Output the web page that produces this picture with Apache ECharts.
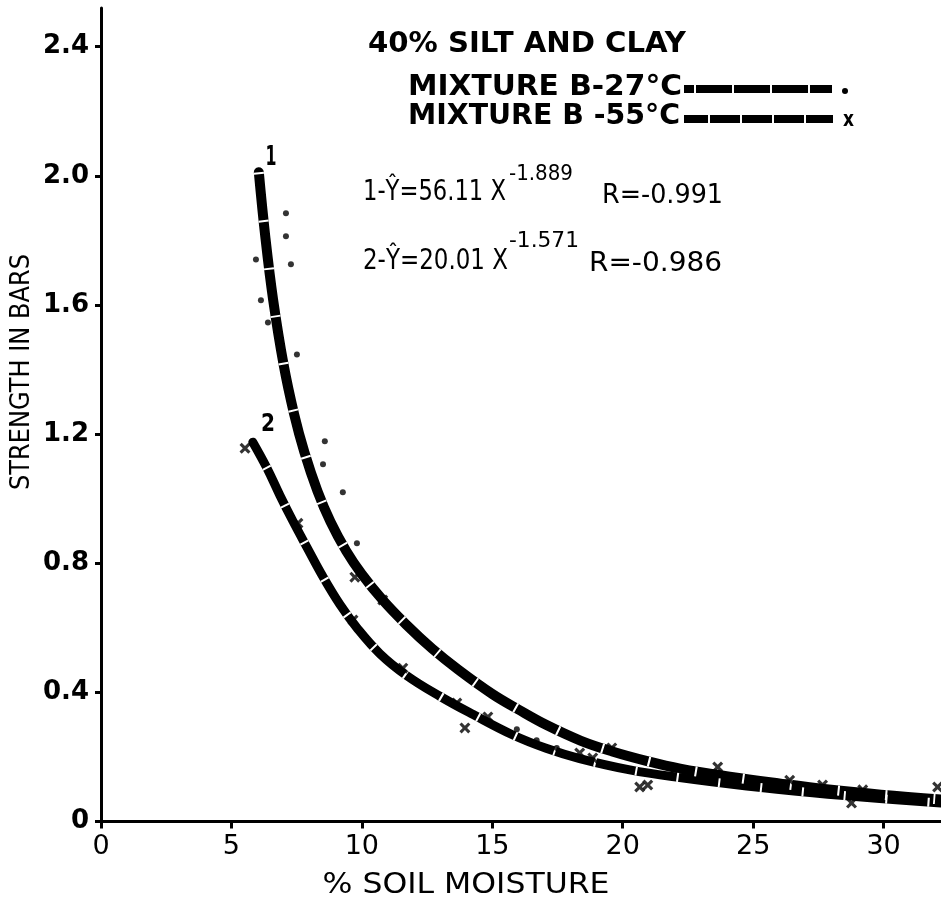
<!DOCTYPE html>
<html>
<head>
<meta charset="utf-8">
<script src="https://cdn.jsdelivr.net/npm/echarts@6/dist/echarts.min.js"></script>
<style>
html,body{margin:0;padding:0;background:#fff;}
#chart{width:941px;height:905px;}
</style>
</head>
<body>
<div id="chart"></div>
<script>
// ---- data ----
const curve1X = [6.05,6.3,6.6,7.0,7.4,7.8,8.3,8.8,9.4,10.0,10.8,11.7,12.7,13.7,15.0,16.0,17.1,18.4,19.6,20.9,22.2,24.1,26.0,27.9,29.9,32.2];
const curve1Y = [2.011,1.81,1.615,1.415,1.263,1.143,1.023,0.928,0.838,0.766,0.686,0.610,0.535,0.470,0.395,0.347,0.298,0.250,0.217,0.188,0.164,0.139,0.118,0.099,0.083,0.068];
const curve2X = [5.82,6.36,6.86,7.36,7.89,8.51,9.16,9.81,10.69,11.72,12.99,14.25,15.79,17.09,18.35,20.27,22.18,24.75,27.28,29.85,32.2];
const curve2Y = [1.175,1.095,1.010,0.930,0.850,0.758,0.672,0.600,0.520,0.452,0.388,0.332,0.268,0.226,0.195,0.160,0.136,0.110,0.089,0.071,0.057];
const dots27X = [7.09,7.09,5.94,7.28,6.13,6.40,7.51,8.58,8.51,9.27,9.81,15.94,16.70,17.47];
const dots27Y = [1.884,1.813,1.741,1.726,1.615,1.546,1.447,1.178,1.107,1.020,0.862,0.286,0.252,0.228];
const cross55X = [5.52,7.55,9.73,10.80,9.66,11.57,13.64,13.95,14.83,18.35,18.85,19.58,20.65,20.96,23.64,26.40,27.66,28.77,29.20,32.07];
const cross55Y = [1.156,0.924,0.757,0.686,0.624,0.475,0.367,0.290,0.324,0.212,0.197,0.228,0.107,0.113,0.169,0.128,0.113,0.057,0.098,0.107];
const xTickLabels = ['0','5','10','15','20','25','30'];
const yTickLabels = ['0','0.4','0.8','1.2','1.6','2.0','2.4'];
const titleText = '40% SILT AND CLAY';
const legendNames = ['MIXTURE B-27°C','MIXTURE B -55°C'];
const eq1 = ['1-Ŷ=56.11 X','-1.889','R=-0.991'];
const eq2 = ['2-Ŷ=20.01 X','-1.571','R=-0.986'];
const curveLabels = ['1','2'];
const xName = '% SOIL MOISTURE';
const yName = 'STRENGTH IN BARS';

const pair = (xs, ys) => xs.map((x, i) => [x, ys[i]]);
const FONT = 'DejaVu Sans';
const crossPath = 'path://M2,0 L5,3 L8,0 L10,2 L7,5 L10,8 L8,10 L5,7 L2,10 L0,8 L3,5 L0,2 Z';

const mctx = document.createElement('canvas').getContext('2d');
// text fitted to a target width (horizontal scale only)
function fit(text, x, y, size, weight, width, align, extra) {
  const font = weight + ' ' + size + 'px "' + FONT + '"';
  mctx.font = font;
  const w = mctx.measureText(text).width;
  return Object.assign({
    type:'text', x:x, y:y, silent:true, scaleX: width / w, scaleY: 1,
    style:{text:text, x:0, y:0, fill:'#000', font:font, textAlign: align || 'left', textVerticalAlign:'middle'}
  }, extra || {});
}

const chart = echarts.init(document.getElementById('chart'), null, {renderer:'canvas'});

const option = {
  backgroundColor:'#fff',
  animation:false,
  grid:{left:101, right:0, top:8, bottom:83.5, containLabel:false},
  xAxis:{
    type:'value', min:0, max:32.2, interval:5,
    axisLine:{show:true, onZero:false, lineStyle:{color:'#000', width:3}},
    axisTick:{show:true, length:7, inside:false, lineStyle:{color:'#000', width:3}},
    axisLabel:{color:'#000', fontSize:27, fontFamily:FONT, margin:12, showMaxLabel:false,
      formatter: v => xTickLabels[Math.round(v/5)] ?? ''},
    splitLine:{show:false}
  },
  yAxis:{
    type:'value', min:0, max:2.52, interval:0.4,
    axisLine:{show:true, onZero:false, lineStyle:{color:'#000', width:3}},
    axisTick:{show:true, length:6, inside:false, lineStyle:{color:'#000', width:3}},
    axisLabel:{color:'#000', fontSize:26, fontFamily:FONT, fontWeight:'bold', margin:12, showMaxLabel:false,
      formatter: v => yTickLabels[Math.round(v/0.4)] ?? ''},
    splitLine:{show:false}
  },
  series:[
    {type:'line', data:pair(curve1X, curve1Y), smooth:0.4, symbol:'none', silent:true,
      lineStyle:{color:'#000', width:10, cap:'round'}, z:2},
    {type:'line', data:pair(curve1X, curve1Y), smooth:0.4, symbol:'none', silent:true,
      lineStyle:{color:'#fff', width:10, type:[2,46], cap:'butt'}, z:3},
    {type:'line', data:pair(curve2X, curve2Y), smooth:0.4, symbol:'none', silent:true,
      lineStyle:{color:'#000', width:9, cap:'round'}, z:2},
    {type:'line', data:pair(curve2X, curve2Y), smooth:0.4, symbol:'none', silent:true,
      lineStyle:{color:'#fff', width:9, type:[2,40], dashOffset:14, cap:'butt'}, z:3},
    {type:'scatter', name:legendNames[0], data:pair(dots27X, dots27Y), symbol:'circle', symbolSize:6,
      itemStyle:{color:'#000'}, z:4},
    {type:'scatter', name:legendNames[1], data:pair(cross55X, cross55Y), symbol:crossPath, symbolSize:11,
      itemStyle:{color:'#000'}, z:4}
  ],
  graphic:[
    fit(titleText, 368, 45, 28, 'bold', 318),
    fit(legendNames[0], 408, 88, 28, 'bold', 274),
    fit(legendNames[1], 408, 117, 28, 'bold', 272),
    {type:'line', silent:true, shape:{x1:684, y1:89, x2:832, y2:89}, style:{stroke:'#000', lineWidth:8}},
    {type:'line', silent:true, shape:{x1:684, y1:89, x2:832, y2:89}, style:{stroke:'#fff', lineWidth:8, lineDash:[2,36], lineDashOffset:-10}},
    {type:'circle', silent:true, shape:{cx:845, cy:91, r:3}, style:{fill:'#000'}},
    {type:'line', silent:true, shape:{x1:684, y1:119, x2:833, y2:119}, style:{stroke:'#000', lineWidth:8}},
    {type:'line', silent:true, shape:{x1:684, y1:119, x2:833, y2:119}, style:{stroke:'#fff', lineWidth:8, lineDash:[2,30], lineDashOffset:-24}},
    fit('x', 843, 120, 22, 'bold', 11),
    fit(eq1[0], 363, 193, 28, 'normal', 143),
    fit(eq1[1], 509, 174, 22, 'normal', 64),
    fit(eq1[2], 602, 196, 27, 'normal', 121),
    fit(eq2[0], 363, 262, 28, 'normal', 145),
    fit(eq2[1], 509, 241, 22, 'normal', 70),
    fit(eq2[2], 589, 264, 27, 'normal', 133),
    fit(curveLabels[0], 271, 158, 26, 'bold', 11, 'center'),
    fit(curveLabels[1], 268, 424, 25, 'bold', 14, 'center'),
    fit(xName, 466, 886, 28, 'normal', 287, 'center'),
    fit(yName, 22, 372, 27, 'normal', 236, 'center', {rotation: Math.PI/2})
  ]
};
chart.setOption(option);
</script>
</body>
</html>
